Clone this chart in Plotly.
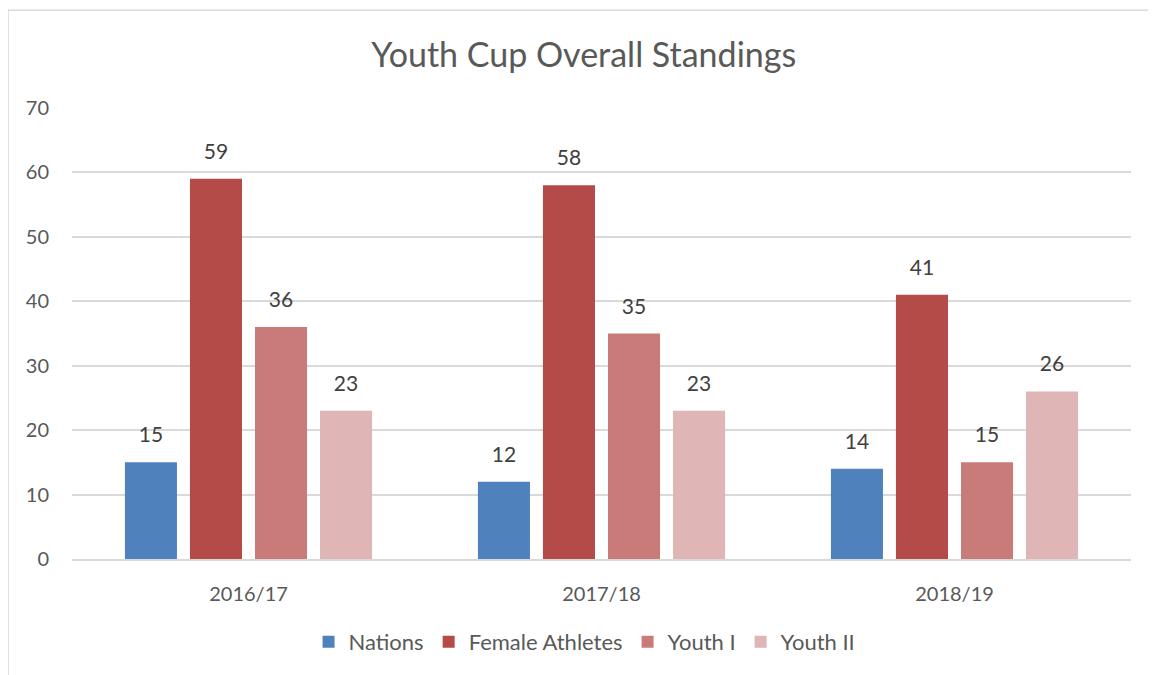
import plotly.graph_objects as go

seasons = ['2016/17', '2017/18', '2018/19']
nations = [15, 12, 14]
female_athletes = [59, 58, 41]
youth_1 = [36, 35, 15]
youth_2 = [23, 23, 26]

series = [
    ('Nations', nations, '#4F81BD'),
    ('Female Athletes', female_athletes, '#B44B48'),
    ('Youth I', youth_1, '#C97B7A'),
    ('Youth II', youth_2, '#DFB5B5'),
]

fig = go.Figure()
for name, vals, color in series:
    fig.add_trace(go.Bar(
        x=seasons,
        y=vals,
        name=name,
        offsetgroup=name,
        marker=dict(color=color, line=dict(width=0)),
    ))

# value labels, lifted a bit above the bars like the original
for name, vals, color in series:
    fig.add_trace(go.Scatter(
        x=seasons,
        y=vals,
        offsetgroup=name,
        mode='markers+text',
        marker=dict(size=22, opacity=0),
        text=vals,
        textposition='top center',
        textfont=dict(size=21, color='#404040'),
        showlegend=False,
        hoverinfo='skip',
        cliponaxis=False,
    ))

fig.update_layout(
    width=1156,
    height=675,
    barmode='group',
    scattermode='group',
    bargap=0.263,
    bargroupgap=0.2,
    font=dict(family='Lato, Open Sans, sans-serif', color='#595959'),
    title=dict(text='Youth Cup Overall Standings', x=0.498, xanchor='center',
               y=0.930, yanchor='middle', font=dict(size=34, color='#595959')),
    plot_bgcolor='white',
    paper_bgcolor='white',
    margin=dict(l=64, r=33, t=100, b=124),
    legend=dict(orientation='h', x=0.484, xanchor='center', y=-0.184, yanchor='middle',
                font=dict(size=22, color='#595959'), itemwidth=30,
                traceorder='normal'),
    xaxis=dict(showline=True, linecolor='#D9D9D9', linewidth=2, ticks='',
               ticklabelstandoff=16, tickfont=dict(size=20, color='#595959')),
    yaxis=dict(range=[0, 70], dtick=10, showgrid=True, gridcolor='#D9D9D9',
               gridwidth=2, zeroline=False, ticks='', ticklabelstandoff=22,
               tickfont=dict(size=20, color='#595959')),
    shapes=[dict(type='rect', xref='paper', yref='paper',
                 x0=-0.0604, x1=1.06, y0=-0.35, y1=1.217,
                 line=dict(color='#D9D9D9', width=1.5))],
)

fig.write_html("out.html")
